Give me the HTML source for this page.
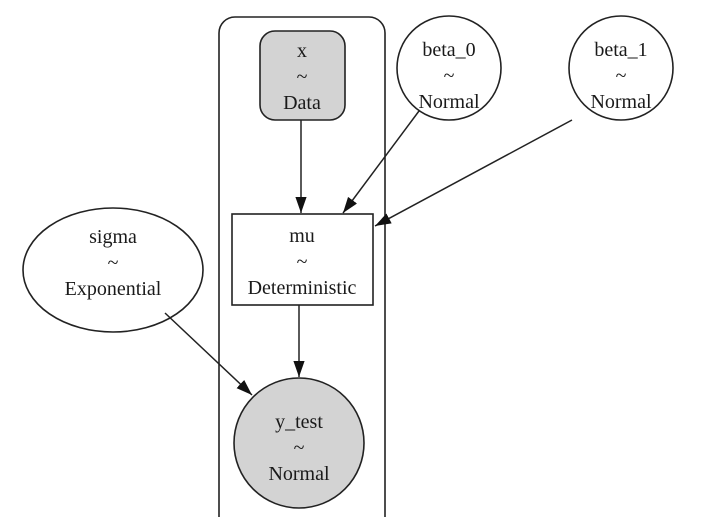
<!DOCTYPE html>
<html><head><style>body{margin:0;background:#fff}svg text{font-family:"Liberation Serif",serif;font-size:20px;fill:#1a1a1a;text-anchor:middle}</style></head>
<body>
<svg width="702" height="517" viewBox="0 0 702 517" xmlns="http://www.w3.org/2000/svg">
<defs><marker id="b" viewBox="0 0 10 10" refX="10" refY="5" markerWidth="16" markerHeight="16" markerUnits="userSpaceOnUse" orient="auto"><path d="M0,1.5L10,5L0,8.5z" fill="#111"/></marker></defs>
<g fill="none" stroke="#222" stroke-width="1.6">
<path d="M219,530V33a16,16 0 0 1 16,-16h134a16,16 0 0 1 16,16V530"/>
</g>
<rect x="260" y="31" width="85" height="89" rx="15" fill="#d3d3d3" stroke="#222" stroke-width="1.6"/>
<circle cx="449" cy="68" r="52" fill="#fff" stroke="#222" stroke-width="1.6"/>
<circle cx="621" cy="68" r="52" fill="#fff" stroke="#222" stroke-width="1.6"/>
<rect x="232" y="214" width="141" height="91" fill="#fff" stroke="#222" stroke-width="1.6"/>
<ellipse cx="113" cy="270" rx="90" ry="62" fill="#fff" stroke="#222" stroke-width="1.6"/>
<circle cx="299" cy="443" r="65" fill="#d3d3d3" stroke="#222" stroke-width="1.6"/>
<g stroke="#222" stroke-width="1.5" marker-end="url(#b)">
<line x1="301" y1="120" x2="301" y2="213"/>
<line x1="419" y1="111" x2="343" y2="213"/>
<line x1="572" y1="120" x2="375" y2="226"/>
<line x1="299" y1="305" x2="299" y2="377"/>
<line x1="165" y1="313" x2="252" y2="395"/>
</g>
<text x="302" y="57">x</text><text x="302" y="83">~</text><text x="302" y="109">Data</text>
<text x="449" y="56">beta_0</text><text x="449" y="82">~</text><text x="449" y="108">Normal</text>
<text x="621" y="56">beta_1</text><text x="621" y="82">~</text><text x="621" y="108">Normal</text>
<text x="302" y="242">mu</text><text x="302" y="268">~</text><text x="302" y="294">Deterministic</text>
<text x="113" y="243">sigma</text><text x="113" y="269">~</text><text x="113" y="295">Exponential</text>
<text x="299" y="428">y_test</text><text x="299" y="454">~</text><text x="299" y="480">Normal</text>
</svg>
</body></html>
